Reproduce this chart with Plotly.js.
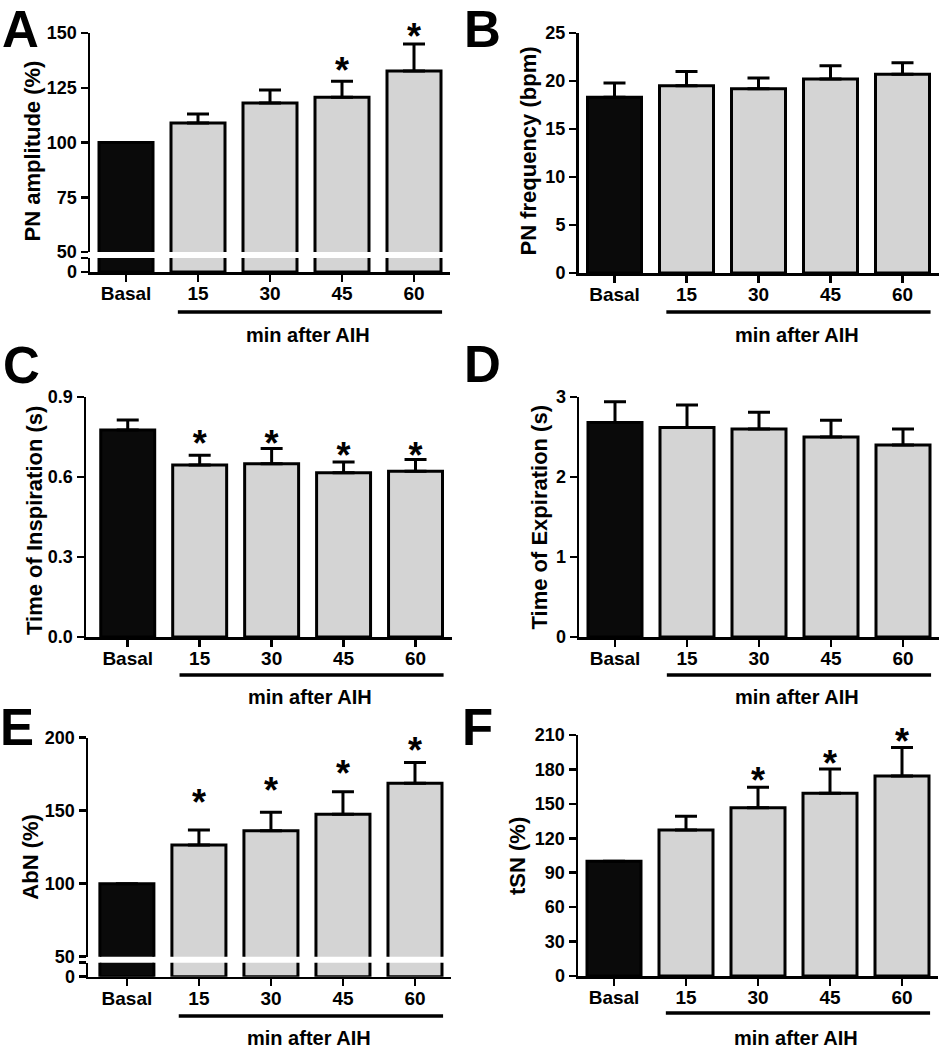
<!DOCTYPE html>
<html><head><meta charset="utf-8">
<script src="https://cdn.plot.ly/plotly-3.0.1.min.js"></script>
<style>html,body{margin:0;padding:0;background:#fff}</style>
</head><body>
<div id="chart" style="width:940px;height:1050px"></div>
<script>
// ---------------- data ----------------
const categories = ['Basal', '15', '30', '45', '60'];

// A: PN amplitude (%)
const pnAmpMean = [100, 108.9, 118.0, 120.7, 132.6];
const pnAmpSem  = [null, 4.1, 6.0, 7.3, 12.4];
const pnAmpStar = [null, null, null, 131.5, 146.6];

// B: PN frequency (bpm)
const pnFreqMean = [18.3, 19.5, 19.2, 20.2, 20.7];
const pnFreqSem  = [1.5, 1.5, 1.1, 1.4, 1.2];

// C: Time of Inspiration (s)
const tiMean = [0.776, 0.645, 0.650, 0.616, 0.622];
const tiSem  = [0.038, 0.037, 0.057, 0.040, 0.044];
const tiStar = [null, 0.711, 0.711, 0.666, 0.666];

// D: Time of Expiration (s)
const teMean = [2.68, 2.62, 2.60, 2.50, 2.40];
const teSem  = [0.26, 0.28, 0.21, 0.21, 0.20];

// E: AbN (%)
const abnMean = [100, 126.5, 136.3, 147.5, 168.8];
const abnSem  = [null, 10.3, 12.6, 15.5, 14.2];
const abnStar = [null, 153.1, 161.1, 172.8, 188.5];

// F: tSN (%)
const tsnMean = [100, 127.2, 146.7, 159.2, 174.3];
const tsnSem  = [null, 11.9, 17.7, 21.2, 24.7];
const tsnStar = [null, null, 167.7, 182.5, 201.1];

// tick labels
const ticksA = [50, 75, 100, 125, 150];
const ticksB = [0, 5, 10, 15, 20, 25];
const ticksC = [0, 0.3, 0.6, 0.9];
const ticksCText = ['0.0', '0.3', '0.6', '0.9'];
const ticksD = [0, 1, 2, 3];
const ticksE = [50, 100, 150, 200];
const ticksF = [0, 30, 60, 90, 120, 150, 180, 210];
const groupLabel = 'min after AIH';

// ---------------- style / layout ----------------
const W = 940, H = 1050;
const px = v => v / W;
const py = v => 1 - v / H;
const FONT = 'Liberation Sans, Arial, Helvetica, sans-serif';
const BLACK = '#000000';
const BASAL = '#0a0a0a';
const GREY = '#d4d4d4';
const barColors = categories.map((c, i) => i === 0 ? BASAL : GREY);

function barTrace(xa, ya, mean, sem) {
  const t = {
    type: 'bar', x: categories, y: mean, xaxis: xa, yaxis: ya,
    marker: { color: barColors, line: { color: BLACK, width: 3 } },
    hoverinfo: 'skip'
  };
  if (sem) {
    t.error_y = { type: 'data', array: sem, symmetric: false, arrayminus: sem.map(() => 0),
                  color: BLACK, thickness: 3, width: 11 };
  }
  return t;
}
function starTrace(xa, ya, stars) {
  return {
    type: 'scatter', mode: 'text', x: categories, y: stars,
    text: stars.map(v => v === null ? '' : '*'), textposition: 'middle center',
    textfont: { family: FONT, size: 36, color: BLACK, weight: 700 },
    cliponaxis: false, xaxis: xa, yaxis: ya, hoverinfo: 'skip'
  };
}

const tickFont = { family: FONT, size: 18, color: BLACK, weight: 700 };
const catFont = { family: FONT, size: 19, color: BLACK, weight: 700 };

function yax(top, bot, range, tickvals, ticktext, anchor) {
  const a = {
    domain: [py(bot), py(top)], range: range, tickmode: 'array', tickvals: tickvals, anchor: anchor,
    showline: true, linewidth: 2.5, linecolor: BLACK, ticks: 'outside', ticklen: 7,
    tickwidth: 2.5, tickcolor: BLACK, showgrid: false, zeroline: false,
    tickfont: tickFont, automargin: false, fixedrange: true
  };
  if (ticktext) a.ticktext = ticktext;
  return a;
}
function xax(l, r, range, anchor) {
  return {
    domain: [px(l), px(r)], type: 'category', categoryarray: categories, categoryorder: 'array',
    range: range, anchor: anchor, showline: true, linewidth: 2.5, linecolor: BLACK,
    ticks: 'outside', ticklen: 7, tickwidth: 2.5, tickcolor: BLACK, ticklabelstandoff: -4,
    showgrid: false, zeroline: false, tickfont: catFont, automargin: false, fixedrange: true
  };
}

const traces = [
  // A (broken axis: y upper, y2 lower)
  barTrace('x', 'y', pnAmpMean, pnAmpSem),
  barTrace('x', 'y2', pnAmpMean, null),
  starTrace('x', 'y', pnAmpStar),
  // B
  barTrace('x2', 'y3', pnFreqMean, pnFreqSem),
  // C
  barTrace('x3', 'y4', tiMean, tiSem),
  starTrace('x3', 'y4', tiStar),
  // D
  barTrace('x4', 'y5', teMean, teSem),
  // E (broken axis: y6 upper, y7 lower)
  barTrace('x5', 'y6', abnMean, abnSem),
  barTrace('x5', 'y7', abnMean, null),
  starTrace('x5', 'y6', abnStar),
  // F
  barTrace('x6', 'y8', tsnMean, tsnSem),
  starTrace('x6', 'y8', tsnStar)
];

const lowA = (272 - 258) / 2.19;
const lowE = (976.7 - 962.7) / 1.46;

const layout = {
  width: W, height: H, margin: { l: 0, r: 0, t: 0, b: 0 },
  paper_bgcolor: '#ffffff', plot_bgcolor: 'rgba(0,0,0,0)',
  showlegend: false, bargap: 0.25,
  font: { family: FONT, color: BLACK },
  // A
  xaxis: xax(90, 450, [-0.5, 4.5], 'y2'),
  yaxis: yax(33, 252, [50, 150], ticksA, null, 'x'),
  yaxis2: yax(258, 272, [0, lowA], [0, lowA], ['0', ''], 'x'),
  // B
  xaxis2: xax(578.5, 938.5, [-0.5, 4.5], 'y3'),
  yaxis3: yax(33, 273, [0, 25], ticksB, null, 'x2'),
  // C
  xaxis3: xax(86, 451.5, [-0.58, 4.5], 'y4'),
  yaxis4: yax(397, 637, [0, 0.9], ticksC, ticksCText, 'x3'),
  // D
  xaxis4: xax(579, 939, [-0.5, 4.5], 'y5'),
  yaxis5: yax(397, 637, [0, 3], ticksD, null, 'x4'),
  // E
  xaxis5: xax(88, 451, [-0.54, 4.5], 'y7'),
  yaxis6: yax(737.7, 956.7, [50, 200], ticksE, null, 'x5'),
  yaxis7: yax(962.7, 976.7, [0, lowE], [0, lowE], ['0', ''], 'x5'),
  // F
  xaxis6: xax(578, 938, [-0.5, 4.5], 'y8'),
  yaxis8: yax(735, 976, [0, 210], ticksF, null, 'x6'),
  shapes: [],
  annotations: []
};

// group underline + label under 15..60
const groups = [
  { xa: 'x', lineY: 312, labelX: 308, labelY: 335 },
  { xa: 'x2', lineY: 312, labelX: 797, labelY: 335 },
  { xa: 'x3', lineY: 675, labelX: 310, labelY: 697 },
  { xa: 'x4', lineY: 675, labelX: 797, labelY: 697 },
  { xa: 'x5', lineY: 1016, labelX: 309, labelY: 1038 },
  { xa: 'x6', lineY: 1013, labelX: 796, labelY: 1038 }
];
groups.forEach(g => {
  layout.shapes.push({ type: 'line', xref: g.xa, yref: 'paper', x0: 0.72, x1: 4.39,
    y0: py(g.lineY), y1: py(g.lineY), line: { color: BLACK, width: 3.5 } });
  layout.annotations.push({ text: groupLabel, xref: 'paper', yref: 'paper',
    x: px(g.labelX), y: py(g.labelY), xanchor: 'center', yanchor: 'middle', showarrow: false,
    borderpad: 0, font: { family: FONT, size: 20, color: BLACK, weight: 700 } });
});

// y-axis titles
const yTitles = [
  { text: 'PN amplitude (%)', x: 32, y: 151.5 },
  { text: 'PN frequency (bpm)', x: 528, y: 151.5 },
  { text: 'Time of Inspiration (s)', x: 34, y: 521 },
  { text: 'Time of Expiration (s)', x: 539, y: 517.5 },
  { text: 'AbN (%)', x: 31, y: 856.7 },
  { text: 'tSN (%)', x: 517, y: 856 }
];
yTitles.forEach(t => {
  layout.annotations.push({ text: t.text, xref: 'paper', yref: 'paper', x: px(t.x), y: py(t.y),
    xanchor: 'center', yanchor: 'middle', textangle: -90, showarrow: false,
    font: { family: FONT, size: 22, color: BLACK, weight: 700 } });
});

// panel letters (top row anchored at the top edge so nothing is cut)
const letters = [
  { text: 'A', x: 20, y: 0, anchor: 'top' }, { text: 'B', x: 482, y: 0, anchor: 'top' },
  { text: 'C', x: 21, y: 365, anchor: 'middle' }, { text: 'D', x: 482, y: 364, anchor: 'middle' },
  { text: 'E', x: 17, y: 727, anchor: 'middle' }, { text: 'F', x: 477, y: 727, anchor: 'middle' }
];
letters.forEach(t => {
  layout.annotations.push({ text: t.text, xref: 'paper', yref: 'paper', x: px(t.x), y: py(t.y),
    xanchor: 'center', yanchor: t.anchor, showarrow: false, borderpad: 0,
    font: { family: FONT, size: 51, color: BLACK, weight: 700 } });
});

Plotly.newPlot('chart', traces, layout, { staticPlot: true, displayModeBar: false });
</script>
</body></html>
